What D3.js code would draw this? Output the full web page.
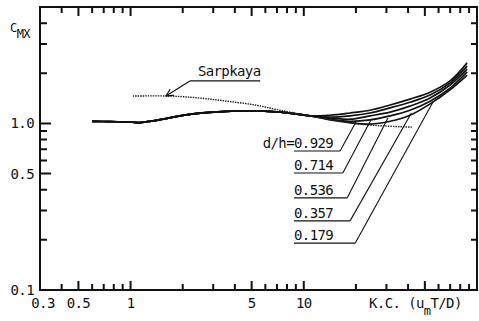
<!DOCTYPE html>
<html lang="en">
<head>
    <meta charset="UTF-8">
    <title>C_MX vs K.C.</title>
    <script src="https://d3js.org/d3.v7.min.js"></script>
    <style>
        body { margin: 0; background: #fff; }
        svg { display: block; }
        text {
            font-family: "DejaVu Sans Mono", "Liberation Mono", monospace;
            font-size: 14px;
            letter-spacing: -0.6px;
            fill: #111;
        }
    </style>
</head>
<body>
<svg id="chart" width="479" height="321"></svg>
<script>
    // K.C. values where the curves were read
    const kc = [0.6, 0.76, 1.0, 1.13, 1.38, 1.76, 2.3, 3.0, 4.7, 7.3, 10.9, 14.2, 18.5, 24.1, 31.5, 41.0, 53.6, 69.9, 87.7];
    // C_MX for each d/h
    const cmx0929 = [1.03, 1.025, 1.02, 1.01, 1.04, 1.09, 1.14, 1.17, 1.19, 1.17, 1.11, 1.05, 1.01, 0.99, 1.03, 1.12, 1.31, 1.59, 1.95];
    const cmx0714 = [1.03, 1.025, 1.02, 1.01, 1.04, 1.09, 1.14, 1.17, 1.19, 1.17, 1.11, 1.06, 1.03, 1.05, 1.11, 1.20, 1.36, 1.63, 2.04];
    const cmx0536 = [1.03, 1.025, 1.02, 1.01, 1.04, 1.09, 1.14, 1.17, 1.19, 1.17, 1.11, 1.08, 1.06, 1.11, 1.17, 1.27, 1.42, 1.70, 2.12];
    const cmx0357 = [1.03, 1.025, 1.02, 1.01, 1.04, 1.09, 1.14, 1.17, 1.19, 1.17, 1.11, 1.09, 1.11, 1.155, 1.24, 1.34, 1.48, 1.75, 2.21];
    const cmx0179 = [1.03, 1.025, 1.02, 1.01, 1.04, 1.09, 1.14, 1.17, 1.19, 1.17, 1.11, 1.12, 1.155, 1.20, 1.29, 1.40, 1.54, 1.80, 2.31];
    const dhLabels = ["0.929", "0.714", "0.536", "0.357", "0.179"];

    // Sarpkaya's curve
    const sarpKc = [1.03, 1.69, 2.52, 3.6, 5.23, 7.29, 10.9, 16.2, 21.1, 29.4, 42.1];
    const sarpCmx = [1.46, 1.46, 1.42, 1.36, 1.29, 1.20, 1.11, 1.03, 0.99, 0.965, 0.95];

    const xTickLabels = ["0.3", "0.5", "1", "5", "10"];
    const yTickLabels = ["0.1", "0.5", "1.0"];

    const svg = d3.select("#chart");

    const x = d3.scaleLog().domain([0.3, 100]).range([40, 477]);
    const y = d3.scaleLog().domain([0.1, 5]).range([290, 7]);

    const xL = x.range()[0], xR = x.range()[1];
    const yB = y.range()[0], yT = y.range()[1];

    // frame
    svg.append("rect")
        .attr("x", xL).attr("y", yT)
        .attr("width", xR - xL).attr("height", yB - yT)
        .attr("fill", "none").attr("stroke", "#111").attr("stroke-width", 2);

    // tick labels
    xTickLabels.forEach(d => {
        svg.append("text")
            .attr("x", x(+d) + (d === "0.3" ? 3 : 0))
            .attr("y", 308)
            .attr("text-anchor", "middle")
            .text(d);
    });
    yTickLabels.forEach(d => {
        svg.append("text")
            .attr("x", 34)
            .attr("y", y(+d) + 5)
            .attr("text-anchor", "end")
            .text(d);
    });

    // axis titles
    const yTitle = svg.append("text").attr("x", 10).attr("y", 32).style("font-size", "12px");
    yTitle.append("tspan").text("C");
    yTitle.append("tspan").attr("dy", 6).style("font-size", "12px").text("MX");

    const xTitle = svg.append("text").attr("x", 369).attr("y", 308);
    xTitle.append("tspan").text("K.C. (u");
    xTitle.append("tspan").attr("dy", 7).style("font-size", "12px").text("m");
    xTitle.append("tspan").attr("dy", -7).text("T/D)");

    // curves
    const line = d3.line()
        .x(d => x(d[0]))
        .y(d => y(d[1]))
        .curve(d3.curveCatmullRom.alpha(0.5));

    const series = [cmx0929, cmx0714, cmx0536, cmx0357, cmx0179];
    series.forEach(s => {
        svg.append("path")
            .attr("d", line(kc.map((k, i) => [k, s[i]])))
            .attr("fill", "none")
            .attr("stroke", "#111")
            .attr("stroke-width", 1.7);
    });

    svg.append("path")
        .attr("d", line(sarpKc.map((k, i) => [k, sarpCmx[i]])))
        .attr("fill", "none")
        .attr("stroke", "#222")
        .attr("stroke-width", 1.4)
        .attr("stroke-dasharray", "1.5,1");

    // Sarpkaya label with arrow
    const sarpTip = [x(1.6), y(1.46)];
    const sarpUl = [x(2.2), y(1.8)];
    svg.append("text").attr("x", sarpUl[0] + 8).attr("y", sarpUl[1] - 5).text("Sarpkaya");
    svg.append("line")
        .attr("x1", sarpUl[0]).attr("x2", x(5.6))
        .attr("y1", sarpUl[1]).attr("y2", sarpUl[1])
        .attr("stroke", "#111").attr("stroke-width", 1.3);
    svg.append("line")
        .attr("x1", sarpUl[0]).attr("y1", sarpUl[1])
        .attr("x2", sarpTip[0]).attr("y2", sarpTip[1])
        .attr("stroke", "#111").attr("stroke-width", 1.2);
    const ang = Math.atan2(sarpUl[1] - sarpTip[1], sarpUl[0] - sarpTip[0]);
    [-0.45, 0.45].forEach(a => {
        svg.append("line")
            .attr("x1", sarpTip[0]).attr("y1", sarpTip[1])
            .attr("x2", sarpTip[0] + 8 * Math.cos(ang + a))
            .attr("y2", sarpTip[1] + 8 * Math.sin(ang + a))
            .attr("stroke", "#111").attr("stroke-width", 1.2);
    });

    // d/h labels, underline and leader to the curve
    const leaderTips = [[20.0, 1.02], [24.4, 1.048], [30.6, 1.077], [41.8, 1.155], [55.7, 1.344]];
    const ulEnds = [[16.2, 0.683], [16.8, 0.504], [17.8, 0.357], [18.5, 0.26], [19.8, 0.191]];
    const ulStart = x(8.78);
    dhLabels.forEach((lab, i) => {
        const ex = x(ulEnds[i][0]), ey = y(ulEnds[i][1]);
        svg.append("text")
            .attr("x", ulStart).attr("y", ey - 3)
            .text(lab);
        if (i === 0) {
            svg.append("text")
                .attr("x", ulStart).attr("y", ey - 3)
                .attr("text-anchor", "end")
                .text("d/h=");
        }
        svg.append("line")
            .attr("x1", ulStart).attr("x2", ex)
            .attr("y1", ey).attr("y2", ey)
            .attr("stroke", "#111").attr("stroke-width", 1.2);
        svg.append("line")
            .attr("x1", ex).attr("y1", ey)
            .attr("x2", x(leaderTips[i][0])).attr("y2", y(leaderTips[i][1]))
            .attr("stroke", "#111").attr("stroke-width", 1.1);
    });

    // inward ticks on all four sides, major ones longer (one path)
    const isMajor = (list, d) => list.some(m => Math.abs(m - d) < 1e-9);
    const xMajor = [0.5, 1, 5, 10, 50];
    const yMajor = [0.5, 1];
    const xt = x.ticks().filter(d => d > 0.31 && d < 99);
    const yt = y.ticks().filter(d => d > 0.11 && d < 4.9);
    const tp = d3.path();
    xt.forEach(d => {
        const len = isMajor(xMajor, d) ? 9 : 6;
        tp.moveTo(x(d), yB); tp.lineTo(x(d), yB - len);
        tp.moveTo(x(d), yT); tp.lineTo(x(d), yT + len);
    });
    yt.forEach(d => {
        const len = isMajor(yMajor, d) ? 11 : 7;
        tp.moveTo(xL, y(d)); tp.lineTo(xL + len, y(d));
        tp.moveTo(xR, y(d)); tp.lineTo(xR - 6, y(d));
    });
    svg.append("path")
        .attr("d", tp.toString())
        .attr("fill", "none")
        .attr("stroke", "#111")
        .attr("stroke-width", 2);
</script>
</body>
</html>
